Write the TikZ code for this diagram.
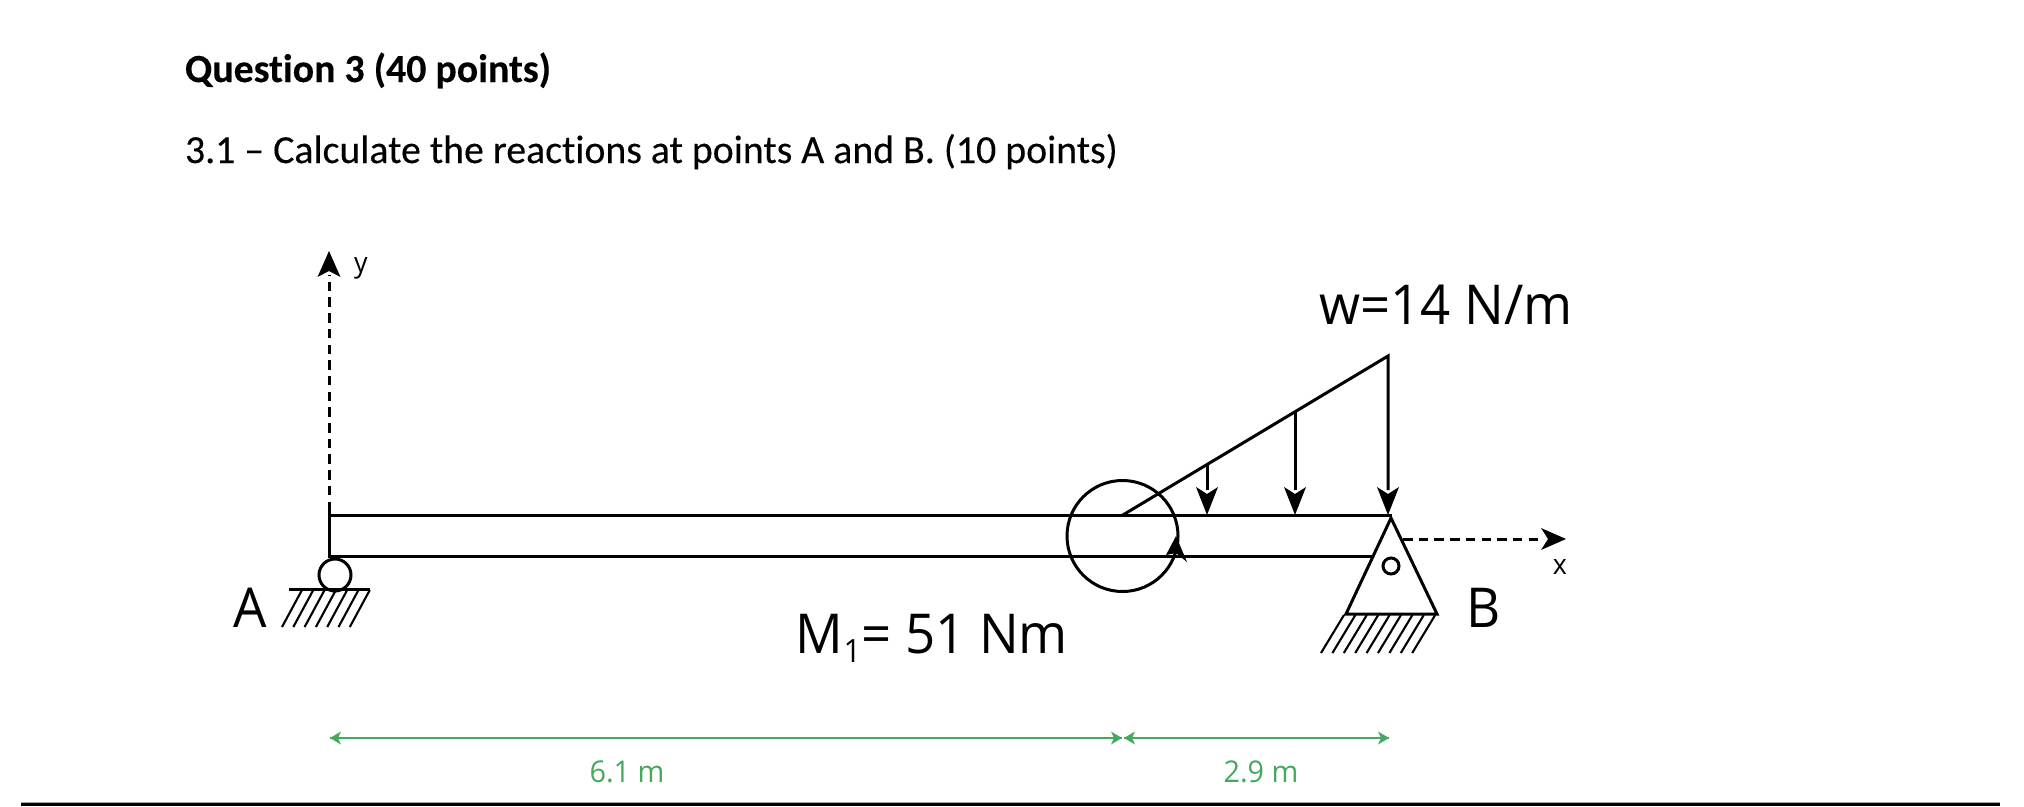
\documentclass[tikz,border=0pt]{standalone}
\usepackage{fontspec}
\setmainfont[Ligatures=NoCommon,FakeBold=0.25]{Carlito}
\newfontfamily\dfont[FakeStretch=0.96]{Open Sans}
\definecolor{dimgreen}{HTML}{45A85F}
\tikzset{
  ln/.style={draw=black,line width=3pt},
  thin ln/.style={draw=black,line width=3pt},
  head/.style={fill=black,draw=none},
  hatchline/.style={draw=black,line width=2.1pt},
  dashline/.style={draw=black,line width=3pt,dash pattern=on 9.5pt off 6.2pt},
  dimline/.style={draw=dimgreen,line width=2pt},
  dimhead/.style={fill=dimgreen,draw=none},
  txt/.style={inner sep=0pt,outer sep=0pt,anchor=base west},
  ctxt/.style={inner sep=0pt,outer sep=0pt,anchor=base},
  big/.style={ctxt,font=\dfont\fontsize{55}{60}\selectfont},
  small/.style={ctxt,font=\dfont\fontsize{28}{36}\selectfont},
  dimtxt/.style={ctxt,text=dimgreen,font=\dfont\fontsize{30}{36}\selectfont},
}
\begin{document}
\begin{tikzpicture}[x=1pt,y=-1pt]
\useasboundingbox (0,0) rectangle (2024,806);
% headings
\node[txt,font=\bfseries\fontsize{39.8}{44}\selectfont] (q3) at (185,82) {Question 3 (40 points)};
\node[txt,font=\fontsize{39.8}{44}\selectfont] (q31) at (185,163) {3.1 – Calculate the reactions at points A and B. (10 points)};
% key points
\coordinate (tl) at (329,515.5);
\coordinate (tr) at (1392,515.5);
\coordinate (bl) at (329,556);
\coordinate (br) at (1375,556);
\coordinate (ld0) at (1122,515.5);
\coordinate (ld1) at (1388,356);
\coordinate (apex) at (1391,518);
\coordinate (tril) at (1346,614);
\coordinate (trir) at (1437,614);
% beam
\draw[ln] (329,511) -- (bl) -- (br);
\draw[ln] (tl) -- (tr);
% distributed load
\draw[ln,line join=miter] (ld0) -- (ld1) -- (1388,490);
\draw[thin ln] (1295,411) -- (1295,490);
\draw[thin ln] (1207,464) -- (1207,490);
\foreach \px in {1207,1295,1388}{
  \fill[head] (\px,515) -- (\px-11,487) -- (\px,494) -- (\px+11,487) -- cycle;
}
% moment
\draw[ln] (1122.5,536) circle[radius=55.5];
\fill[head] (1176,536) -- (1166,555) -- (1176,553) -- (1187,562) -- cycle;
% support B
\draw[ln,fill=white,line join=miter] (apex) -- (trir) -- (tril) -- cycle;
\draw[ln,fill=white] (1391,566) circle[radius=8];
\foreach \i in {0,...,8}{
  \draw[hatchline] (1344+11.4*\i,615) -- (1321+11.4*\i,653);
}
% x axis
\draw[dashline] (1403,539) -- (1543,539);
\fill[head] (1566,539) -- (1541,528) -- (1548,539) -- (1541,550) -- cycle;
\node[small] (xl) at (1560,574) {x};
% y axis and support A
\draw[dashline] (329,511) -- (329,275);
\fill[head] (329,251) -- (317.5,277) -- (329,271) -- (340.5,277) -- cycle;
\node[small] (yl) at (361,272) {y};
\draw[ln] (335,575) circle[radius=16];
\draw[ln] (289,589) -- (370,589);
\foreach \i in {0,...,6}{
  \draw[hatchline] (302+11.3*\i,590) -- (282+11.3*\i,627);
}
% labels
\node[big] (la) at (250,627) {A};
\node[big] (lb) at (1484,627) {B};
\node[big] (lw) at (1446,324) {w=14 N/m};
\node[big] (lm) at (932,653) {M\raisebox{-9pt}{\fontsize{32}{32}\selectfont 1}= 51 Nm};
% dimensions
\coordinate (d0) at (330,738);
\coordinate (d1) at (1122,738);
\coordinate (d2) at (1124,738);
\coordinate (d3) at (1389,738);
\draw[dimline] (d0) -- (d1);
\draw[dimline] (d2) -- (d3);
\fill[dimhead] (330,738) -- (341,731.5) -- (338,738) -- (341,744.5) -- cycle;
\fill[dimhead] (1122,738) -- (1111,731.5) -- (1114,738) -- (1111,744.5) -- cycle;
\fill[dimhead] (1124,738) -- (1135,731.5) -- (1132,738) -- (1135,744.5) -- cycle;
\fill[dimhead] (1389,738) -- (1378,731.5) -- (1381,738) -- (1378,744.5) -- cycle;
\node[dimtxt] (d61) at (627,782) {6.1 m};
\node[dimtxt] (d29) at (1261,782) {2.9 m};
% bottom rule
\fill[black!35] (21,802) rectangle (2000,803);
\fill[black] (21,803) rectangle (2000,806);
\end{tikzpicture}
\end{document}
